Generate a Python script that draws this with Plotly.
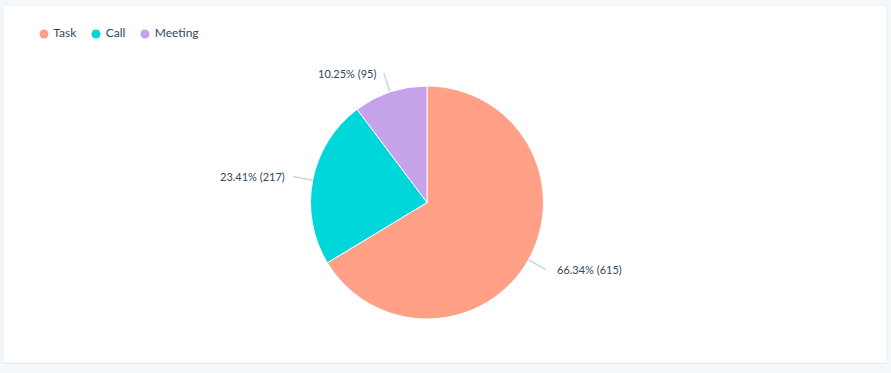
import math
import plotly.graph_objects as go

# ---- data ----
categories = ["Task", "Call", "Meeting"]
values = [615, 217, 95]
colors = ["#ffa087", "#00d7db", "#c5a2ea"]

# ---- layout constants (pixels) ----
W, H = 891, 373
cx, cy, r = 427, 202.5, 116.5
legend_x = [44, 96, 145]
legend_y = 34
text_color = "#33475b"
line_color = "#cbd6e2"
bg_color = "#f5f8fa"
font_family = "Lato, 'Open Sans', sans-serif"

total = sum(values)
labels = [f"{v / total * 100:.2f}% ({v})" for v in values]

fig = go.Figure()

fig.add_trace(go.Pie(
    labels=categories, values=values, sort=False, direction="clockwise", rotation=0,
    marker=dict(colors=colors, line=dict(color="white", width=1)),
    textinfo="none", showlegend=False,
    domain=dict(x=[(cx - r) / W, (cx + r) / W], y=[(H - cy - r) / H, (H - cy + r) / H]),
))

# legend (circle markers with labels)
fig.add_trace(go.Scatter(
    x=legend_x, y=[legend_y] * len(categories), mode="markers+text",
    text=[" " + c for c in categories], textposition="middle right",
    showlegend=False, hoverinfo="skip",
    marker=dict(symbol="circle", size=9, color=colors),
    textfont=dict(size=12, color=text_color, family=font_family),
))

# leader lines + labels computed from slice angles
annotations = []
cum = 0
for v, lab in zip(values, labels):
    mid = (cum + v / 2) / total * 2 * math.pi
    cum += v
    s, c = math.sin(mid), math.cos(mid)
    x0, y0 = cx + (r - 1) * s, cy - (r - 1) * c
    x1, y1 = cx + (r + 20) * s, cy - (r + 20) * c
    fig.add_trace(go.Scatter(x=[x0, x1], y=[y0, y1], mode="lines", showlegend=False,
                             hoverinfo="skip", line=dict(color=line_color, width=1.5)))
    right = s >= 0
    annotations.append(dict(
        x=x1 + (9 if right else -6), y=y1, xref="x", yref="y", text=lab, showarrow=False,
        xanchor="left" if right else "right", yanchor="middle",
        font=dict(size=11, color=text_color, family=font_family),
    ))

shapes = [
    dict(type="rect", xref="x", yref="y", x0=3, x1=887, y0=6, y1=364,
         fillcolor="#e3e8ee", line=dict(width=0), layer="below"),
    dict(type="rect", xref="x", yref="y", x0=3, x1=887, y0=5, y1=363,
         fillcolor="white", line=dict(color="#eaeff4", width=1), layer="below"),
]

fig.update_layout(
    width=W, height=H,
    margin=dict(l=0, r=0, t=0, b=0),
    paper_bgcolor=bg_color, plot_bgcolor="rgba(0,0,0,0)",
    xaxis=dict(range=[0, W], visible=False, fixedrange=True),
    yaxis=dict(range=[H, 0], visible=False, fixedrange=True),
    shapes=shapes, annotations=annotations,
    showlegend=False,
    font=dict(family=font_family, color=text_color),
)

fig.write_html(
    "out.html",
    config={"displayModeBar": False},
    post_script="document.body.style.margin='0';document.body.style.background='%s';" % bg_color,
)
